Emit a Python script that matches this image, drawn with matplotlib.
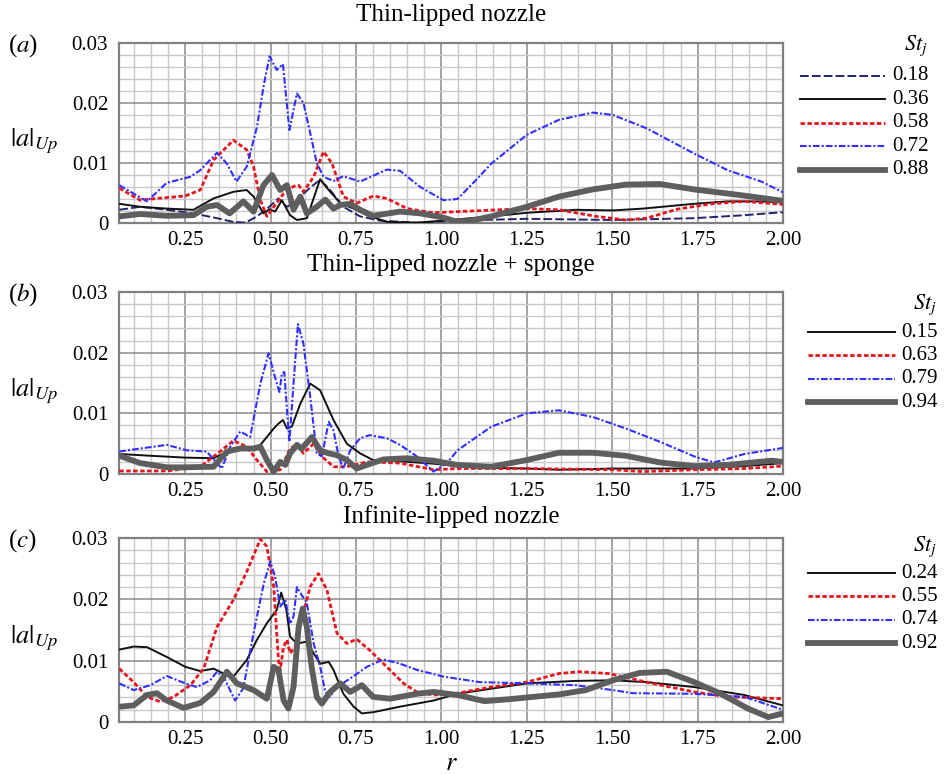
import matplotlib
matplotlib.use("Agg")
import matplotlib.pyplot as plt
from matplotlib.lines import Line2D
from matplotlib.ticker import MultipleLocator, FixedLocator, FuncFormatter
import numpy as np

plt.rcParams["font.family"] = ["Liberation Serif", "DejaVu Serif"]
plt.rcParams["mathtext.fontset"] = "stix"

# ---- data (values in units of 1e-3) ----
# (a) thin-lipped nozzle
a018_r = [0.057, 0.118, 0.196, 0.274, 0.343, 0.39, 0.426, 0.46, 0.49, 0.523, 0.548, 0.567, 0.587, 0.62, 0.645,
          0.674, 0.713, 0.762, 0.82, 0.928, 1.047, 1.25, 1.502, 1.739, 1.887, 2.0]
a018_v = [2.2, 2.7, 2.2, 1.6, 0.8, 0.2, 0.05, 1.1, 2.4, 4.1, 2.7, 3.3, 4.4, 6.1, 7.2,
          5.5, 2.7, 1.1, 0.4, 0.05, 0.4, 0.7, 0.5, 0.8, 1.3, 1.8]
a036_r = [0.057, 0.118, 0.196, 0.274, 0.333, 0.391, 0.43, 0.45, 0.479, 0.497, 0.513, 0.533, 0.557, 0.577, 0.606,
          0.645, 0.67, 0.704, 0.743, 0.782, 0.84, 0.928, 1.026, 1.146, 1.25, 1.393, 1.502, 1.59, 1.739, 1.838,
          1.937, 2.0]
a036_v = [3.2, 2.7, 2.4, 2.2, 4.1, 5.2, 5.5, 4.4, 1.6, 2.3, 1.9, 3.8, 1.3, 0.5, 0.8,
          7.3, 5.5, 3.3, 2.4, 1.3, 0.2, 0.05, 0.5, 1.1, 1.7, 2.2, 2.1, 2.4, 3.2, 3.6,
          3.6, 3.4]
a058_r = [0.057, 0.118, 0.167, 0.25, 0.294, 0.333, 0.391, 0.43, 0.45, 0.47, 0.489, 0.509, 0.538, 0.567, 0.582,
          0.596, 0.626, 0.655, 0.68, 0.713, 0.752, 0.80, 0.84, 0.90, 0.977, 1.047, 1.25, 1.344, 1.453, 1.54,
          1.60, 1.69, 1.79, 1.887, 2.0]
a058_v = [5.8, 3.8, 4.1, 4.5, 5.5, 10.5, 13.8, 12.2, 9.4, 3.8, 1.1, 2.7, 4.9, 6.1, 6.3,
          5.2, 7.7, 11.9, 9.9, 4.4, 3.3, 4.5, 4.1, 2.4, 1.7, 1.9, 2.4, 2.2, 1.1, 0.5,
          0.8, 2.3, 3.2, 3.6, 3.1]
a072_r = [0.057, 0.138, 0.196, 0.265, 0.294, 0.343, 0.372, 0.40, 0.43, 0.46, 0.48, 0.497, 0.518, 0.536, 0.555,
          0.577, 0.596, 0.616, 0.635, 0.655, 0.684, 0.713, 0.762, 0.84, 0.879, 0.938, 1.006, 1.047, 1.097, 1.146,
          1.196, 1.25, 1.344, 1.443, 1.502, 1.60, 1.739, 1.838, 1.937, 2.0]
a072_v = [6.3, 3.6, 6.7, 7.7, 8.8, 11.7, 9.9, 6.9, 9.4, 16.0, 23.0, 27.8, 25.5, 26.5, 15.5,
          21.6, 20.0, 15.0, 10.0, 7.7, 7.0, 7.8, 6.9, 8.9, 8.7, 6.0, 3.8, 4.0, 6.9, 9.9,
          12.2, 14.7, 17.2, 18.4, 18.0, 15.8, 11.6, 8.8, 6.9, 5.1]
a088_r = [0.057, 0.118, 0.196, 0.274, 0.313, 0.343, 0.38, 0.42, 0.45, 0.479, 0.504, 0.528, 0.548, 0.567, 0.587,
          0.606, 0.635, 0.66, 0.684, 0.704, 0.733, 0.762, 0.80, 0.879, 0.938, 1.006, 1.04, 1.08, 1.146, 1.25,
          1.344, 1.443, 1.54, 1.64, 1.739, 1.868, 2.0]
a088_v = [1.1, 1.5, 1.2, 1.3, 2.7, 3.0, 1.6, 3.6, 1.9, 6.3, 8.0, 5.5, 6.3, 2.2, 4.4,
          1.6, 2.7, 3.9, 2.4, 3.0, 3.2, 2.2, 1.2, 1.9, 1.6, 0.9, 0.3, 0.3, 1.1, 2.7,
          4.4, 5.6, 6.4, 6.5, 5.6, 4.7, 3.7]

# (b) thin-lipped nozzle + sponge
b015_r = [0.057, 0.15, 0.25, 0.333, 0.391, 0.44, 0.47, 0.489, 0.509, 0.523, 0.536, 0.548, 0.562, 0.587, 0.616,
          0.645, 0.684, 0.723, 0.762, 0.80, 0.879, 0.977, 1.047, 1.146, 1.25, 1.344, 1.502, 1.74, 1.887, 2.0]
b015_v = [3.3, 3.0, 2.7, 2.6, 4.2, 3.9, 4.8, 6.1, 7.5, 8.3, 8.9, 7.5, 7.8, 11.6, 14.9,
          13.8, 8.9, 5.0, 3.4, 2.3, 2.1, 1.7, 1.3, 1.0, 0.9, 0.7, 0.9, 0.9, 1.3, 1.8]
b063_r = [0.057, 0.196, 0.294, 0.343, 0.391, 0.43, 0.46, 0.489, 0.528, 0.557, 0.577, 0.596, 0.626, 0.65, 0.684,
          0.723, 0.782, 0.879, 0.977, 1.047, 1.25, 1.502, 1.59, 1.74, 1.887, 2.0]
b063_v = [0.5, 0.5, 1.2, 3.3, 5.5, 4.5, 2.3, 0.4, 0.7, 4.2, 4.9, 3.4, 5.0, 2.9, 1.2,
          1.2, 2.0, 1.8, 0.7, 0.9, 0.9, 0.7, 0.4, 0.7, 0.9, 1.3]
b079_r = [0.057, 0.118, 0.196, 0.255, 0.313, 0.343, 0.357, 0.382, 0.411, 0.44, 0.47, 0.494, 0.518, 0.526, 0.533,
          0.54, 0.548, 0.555, 0.567, 0.58, 0.596, 0.616, 0.635, 0.65, 0.67, 0.684, 0.699, 0.713, 0.733, 0.762,
          0.79, 0.84, 0.879, 0.928, 0.977, 1.016, 1.047, 1.146, 1.25, 1.344, 1.443, 1.54, 1.64, 1.74, 1.798,
          1.887, 2.0]
b079_v = [3.7, 4.2, 4.8, 3.9, 3.7, 1.8, 0.9, 4.5, 7.0, 6.1, 14.9, 19.9, 14.9, 13.5, 16.6,
          16.8, 10.5, 5.3, 14.9, 24.7, 21.5, 12.7, 3.4, 2.9, 8.6, 7.2, 2.9, 0.9, 3.9, 5.9,
          6.4, 5.9, 4.8, 2.9, 0.4, 1.8, 3.9, 7.8, 10.0, 10.5, 9.4, 7.5, 5.3, 2.9, 1.9,
          3.3, 4.3]
b094_r = [0.057, 0.118, 0.196, 0.25, 0.333, 0.372, 0.411, 0.45, 0.47, 0.489, 0.509, 0.528, 0.543, 0.557, 0.577,
          0.591, 0.621, 0.645, 0.67, 0.694, 0.723, 0.752, 0.782, 0.83, 0.899, 0.977, 1.045, 1.146, 1.25, 1.344,
          1.443, 1.54, 1.64, 1.74, 1.838, 1.966, 2.0]
b094_v = [3.0, 1.8, 1.1, 1.1, 1.2, 3.7, 4.2, 4.2, 4.5, 2.3, 0.4, 2.0, 1.5, 3.4, 4.8,
          4.2, 6.1, 3.9, 3.4, 3.1, 2.3, 0.9, 1.5, 2.4, 2.6, 2.2, 1.5, 1.2, 2.3, 3.5,
          3.5, 3.0, 1.9, 1.3, 1.5, 2.2, 2.0]

# (c) infinite-lipped nozzle
c024_r = [0.057, 0.099, 0.138, 0.196, 0.25, 0.294, 0.333, 0.362, 0.391, 0.43, 0.46, 0.489, 0.518, 0.531, 0.546,
          0.557, 0.577, 0.606, 0.626, 0.645, 0.67, 0.684, 0.713, 0.743, 0.767, 0.80, 0.879, 0.977, 1.047, 1.25,
          1.393, 1.502, 1.60, 1.74, 1.887, 2.0]
c024_v = [11.8, 12.3, 12.2, 10.6, 9.0, 8.3, 8.7, 7.9, 7.4, 10.1, 13.4, 16.1, 18.3, 21.1, 18.3,
          13.9, 12.8, 13.1, 11.2, 9.5, 9.8, 8.5, 4.6, 2.5, 1.4, 1.6, 2.5, 3.5, 4.6, 6.3,
          6.7, 6.8, 6.5, 5.7, 4.4, 2.7]
c055_r = [0.057, 0.099, 0.138, 0.177, 0.216, 0.265, 0.304, 0.343, 0.391, 0.43, 0.47, 0.489, 0.509, 0.523, 0.528,
          0.538, 0.548, 0.557, 0.572, 0.591, 0.616, 0.64, 0.665, 0.694, 0.723, 0.752, 0.79, 0.84, 0.889, 0.928,
          0.977, 1.047, 1.146, 1.25, 1.344, 1.403, 1.49, 1.60, 1.74, 1.84, 2.0]
c055_v = [8.7, 6.5, 4.1, 3.3, 4.1, 6.0, 8.7, 15.5, 19.9, 24.5, 29.8, 28.6, 22.1, 10.1, 8.5,
          12.3, 13.4, 11.2, 12.3, 16.6, 22.1, 24.2, 21.5, 14.5, 12.8, 13.5, 11.7, 9.0, 6.3, 4.9,
          4.4, 4.7, 5.7, 6.5, 7.9, 8.2, 7.9, 6.5, 4.9, 4.1, 3.8]
c074_r = [0.057, 0.099, 0.148, 0.196, 0.25, 0.284, 0.323, 0.343, 0.362, 0.396, 0.42, 0.45, 0.48, 0.499, 0.513,
          0.528, 0.543, 0.557, 0.567, 0.577, 0.591, 0.606, 0.626, 0.645, 0.66, 0.674, 0.694, 0.733, 0.782, 0.83,
          0.879, 0.928, 1.006, 1.113, 1.25, 1.393, 1.502, 1.56, 1.74, 1.887, 2.0]
c074_v = [6.3, 5.2, 6.0, 7.5, 6.3, 5.7, 6.8, 8.2, 7.4, 3.5, 5.5, 14.5, 22.6, 26.2, 23.7,
          18.8, 19.9, 16.0, 17.2, 22.0, 20.7, 19.4, 12.8, 9.0, 4.9, 4.1, 5.7, 7.1, 9.0, 10.2,
          9.5, 8.5, 7.4, 6.5, 6.3, 6.0, 5.2, 4.7, 4.6, 4.1, 2.0]
c092_r = [0.057, 0.099, 0.138, 0.167, 0.196, 0.245, 0.294, 0.333, 0.372, 0.401, 0.45, 0.489, 0.509, 0.523, 0.538,
          0.552, 0.567, 0.582, 0.594, 0.606, 0.62, 0.635, 0.65, 0.674, 0.704, 0.733, 0.767, 0.80, 0.85, 0.928,
          0.977, 1.047, 1.126, 1.196, 1.25, 1.344, 1.423, 1.502, 1.58, 1.66, 1.74, 1.818, 1.897, 1.957, 2.0]
c092_v = [2.5, 2.7, 4.4, 4.7, 3.5, 2.3, 3.1, 4.9, 8.2, 6.3, 5.2, 3.8, 9.0, 8.5, 3.5,
          2.2, 5.7, 15.5, 18.5, 15.5, 9.0, 4.1, 3.0, 4.9, 6.3, 4.9, 6.0, 4.1, 3.8, 4.6,
          4.9, 4.4, 3.4, 3.7, 4.0, 4.5, 5.2, 6.8, 8.0, 8.2, 6.5, 4.6, 2.2, 0.8, 1.4]

titles = ["Thin-lipped nozzle", "Thin-lipped nozzle + sponge", "Infinite-lipped nozzle"]
panel_tags = ["($a$)", "($b$)", "($c$)"]
x_ticks = [0.25, 0.50, 0.75, 1.00, 1.25, 1.50, 1.75, 2.00]
y_ticks = [0.0, 0.01, 0.02, 0.03]
y_tick_labels = ["0", "0.01", "0.02", "0.03"]

# styles
STY = {
    "navy": dict(color="#24246e", lw=1.4, ls=(0, (4.5, 1.6))),
    "black": dict(color="#111111", lw=1.4, ls="-"),
    "red": dict(color="#e8141c", lw=2.0, ls=(0, (1.6, 0.9))),
    "blue": dict(color="#2f2fff", lw=1.5, ls=(0, (3.2, 1.0, 1.0, 1.0))),
    "gray": dict(color="#5e5e5e", lw=4.2, ls="-"),
}

panels = [
    [("0.18", a018_r, a018_v, "navy"), ("0.36", a036_r, a036_v, "black"), ("0.58", a058_r, a058_v, "red"),
     ("0.72", a072_r, a072_v, "blue"), ("0.88", a088_r, a088_v, "gray")],
    [("0.15", b015_r, b015_v, "black"), ("0.63", b063_r, b063_v, "red"),
     ("0.79", b079_r, b079_v, "blue"), ("0.94", b094_r, b094_v, "gray")],
    [("0.24", c024_r, c024_v, "black"), ("0.55", c055_r, c055_v, "red"),
     ("0.74", c074_r, c074_v, "blue"), ("0.92", c092_r, c092_v, "gray")],
]

W, H = 945, 775
fig = plt.figure(figsize=(W / 100, H / 100), dpi=100)

# axes boxes in pixels: (top, bottom, title centre y)
boxes = [(43, 223, 15), (292, 474, 265), (538, 722, 517)]
left_px, right_px = 119.3, 783
# legend layout in pixels: (St_j y, first row y, line x0, line x1, text x)
leg = [(46, 76, 800, 885, 892), (305, 332, 808, 895, 901), (547, 573, 808, 895, 901)]
row_gap = 23.4


def fx(px):
    return px / W


def fy(py):
    return 1 - py / H


for k, (series, (top, bot, ty)) in enumerate(zip(panels, boxes)):
    ax = fig.add_axes([fx(left_px), fy(bot), fx(right_px - left_px), (bot - top) / H])
    for lab, r, v, sty in series:
        s = STY[sty]
        ax.plot(r, np.array(v) * 1e-3, color=s["color"], lw=s["lw"], ls=s["ls"], zorder=3)
    ax.set_xlim(0.057, 2.0)
    ax.set_ylim(0, 0.03)
    ax.xaxis.set_major_locator(FixedLocator(x_ticks))
    ax.xaxis.set_minor_locator(MultipleLocator(0.05))
    ax.yaxis.set_major_locator(FixedLocator(y_ticks))
    ax.yaxis.set_minor_locator(MultipleLocator(0.002))
    ax.xaxis.set_major_formatter(FuncFormatter(lambda x, _: f"{x:.2f}"))
    ax.set_yticklabels(y_tick_labels)
    ax.grid(True, which="major", color="#8a8a8a", lw=1.1, zorder=1)
    ax.grid(True, which="minor", color="#c8c8c8", lw=1.0, zorder=0)
    ax.set_axisbelow(True)
    ax.tick_params(which="both", length=0, labelsize=15)
    ax.tick_params(axis="x", pad=6)
    ax.tick_params(axis="y", pad=8)
    for sp in ax.spines.values():
        sp.set_color("#808080")
        sp.set_linewidth(1.6)

    # title, panel tag, y label
    fig.text(fx((left_px + right_px) / 2), fy(ty), titles[k], ha="center", va="center", fontsize=18)
    fig.text(fx(8), fy(top + 3), panel_tags[k], ha="left", va="center", fontsize=18)
    fig.text(fx(10), fy((top + bot) / 2 + 8), r"$|a|_{Up}$", ha="left", va="center", fontsize=19)

    # legend
    sty_y, y0, lx0, lx1, tx = leg[k]
    fig.text(fx(tx + 24), fy(sty_y), r"$St_j$", ha="center", va="center", fontsize=16)
    for i, (lab, r, v, sty) in enumerate(series):
        yy = y0 + i * row_gap
        s = STY[sty]
        fig.add_artist(Line2D([fx(lx0), fx(lx1)], [fy(yy), fy(yy)], color=s["color"], lw=s["lw"], ls=s["ls"]))
        fig.text(fx(tx), fy(yy), lab, ha="left", va="center", fontsize=15)

fig.text(fx(451), fy(764), r"$r$", ha="center", va="center", fontsize=19)

fig.savefig("out.png", dpi=100, facecolor="white")
